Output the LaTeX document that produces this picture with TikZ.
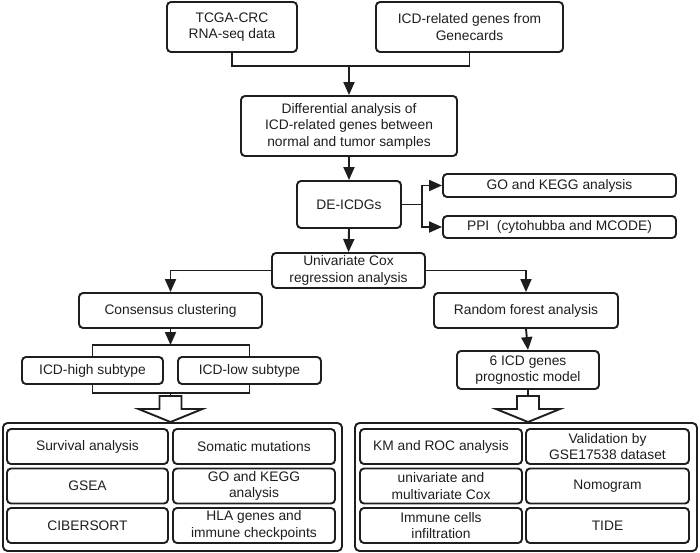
\documentclass[tikz,border=0pt]{standalone}
\usepackage{fontspec}
\setmainfont{Liberation Sans}
\usepackage{tikz}
\usetikzlibrary{arrows.meta}
\definecolor{inkgray}{HTML}{1E1E1E}
\def\hollowarrow(#1,#2){\draw[bigarr] ({#1-11},{#2}) -- ({#1+11},{#2}) -- ({#1+11},{#2+13}) -- ({#1+32},{#2+13}) -- ({#1},{#2+26}) -- ({#1-32},{#2+13}) -- ({#1-11},{#2+13}) -- cycle;}

\begin{document}
\begin{tikzpicture}[x=1pt, y=-1pt,
	box/.style={draw=inkgray, line width=1.9pt, rounded corners=4pt, align=center, inner sep=1pt, text=inkgray, font=\fontsize{13.8}{16.5}\selectfont},
	cell/.style={box, minimum height=35pt},
	panel/.style={draw=inkgray, line width=1.9pt, rounded corners=4.5pt, inner sep=0pt},
	link/.style={draw=inkgray, line width=1.9pt},
	arr/.style={link, -{Triangle[length=13pt, width=11pt]}},
	bigarr/.style={draw=inkgray, line width=1.9pt, fill=white, line join=miter}]
			%%%%% START %%%%%
			\useasboundingbox (0,0) rectangle (700,553);
			
			\node[box, minimum width=130pt, minimum height=50pt] (tcga) at (232,27) {TCGA-CRC\\RNA-seq data};
			\node[box, minimum width=187pt, minimum height=50pt] (icdrel) at (469.5,27) {ICD-related genes from\\Genecards};
			\coordinate (mergetop) at (349,66);
			
			\node[box, minimum width=216pt, minimum height=60pt] (diff) at (349,126) {Differential analysis of\\ICD-related genes between\\normal and tumor samples};
			\node[box, minimum width=104pt, minimum height=47pt] (deicdg) at (349,204.5) {DE-ICDGs};
			\coordinate (split) at (422,204.5);
			\node[box, minimum width=233pt, minimum height=23pt] (go) at (559.5,185.5) {GO and KEGG analysis};
			\node[box, minimum width=233pt, minimum height=22pt] (ppi) at (559.5,227) {PPI~~(cytohubba and MCODE)};
			
			\node[box, minimum width=153pt, minimum height=35pt] (unicox) at (348.5,270.5) {Univariate Cox\\regression analysis};
			\node[box, minimum width=183pt, minimum height=35pt] (consensus) at (170.5,310.5) {Consensus clustering};
			\node[box, minimum width=184pt, minimum height=35pt] (forest) at (526,310.5) {Random forest analysis};
			
			\coordinate (subtop) at (170.5,345);
			\node[box, minimum width=141pt, minimum height=27pt] (high) at (92.5,370.5) {ICD-high subtype};
			\node[box, minimum width=143pt, minimum height=27pt] (low) at (249.5,370.5) {ICD-low subtype};
			\coordinate (subbot) at (170.5,393);
			\node[box, minimum width=142pt, minimum height=38pt] (model) at (528,370) {6 ICD genes\\prognostic model};
			
			% result panels
			\node[panel, minimum width=339pt, minimum height=128pt] (leftpanel) at (172.5,487) {};
			\node[panel, minimum width=342pt, minimum height=128pt] (rightpanel) at (526,487) {};
			
			\node[cell, minimum width=161pt] (survival) at (87.5,446.5) {Survival analysis};
			\node[cell, minimum width=162pt] (somatic) at (254,446.5) {Somatic mutations};
			\node[cell, minimum width=161pt] (gsea) at (87.5,486) {GSEA};
			\node[cell, minimum width=162pt] (gokegg) at (254,486) {GO and KEGG\\analysis};
			\node[cell, minimum width=161pt] (cibersort) at (87.5,525.5) {CIBERSORT};
			\node[cell, minimum width=162pt] (hla) at (254,525.5) {HLA genes and\\immune checkpoints};
			
			\node[cell, minimum width=162pt] (kmroc) at (441,446.5) {KM and ROC analysis};
			\node[cell, minimum width=163pt] (validation) at (607.5,446.5) {Validation by\\GSE17538 dataset};
			\node[cell, minimum width=162pt] (multicox) at (441,486) {univariate and\\multivariate Cox};
			\node[cell, minimum width=163pt] (nomogram) at (607.5,486) {Nomogram};
			\node[cell, minimum width=162pt] (immune) at (441,525.5) {Immune cells\\infiltration};
			\node[cell, minimum width=163pt] (tide) at (607.5,525.5) {TIDE};
			
			% connectors
			\draw[link] (tcga.south) |- (mergetop) -| (icdrel.south);
			\draw[arr] (mergetop) -- (diff.north);
			\draw[arr] (diff.south) -- (deicdg.north);
			\draw[link] (deicdg.east) -- (split);
			\draw[arr] (split) |- (go.west);
			\draw[arr] (split) |- (ppi.west);
			\draw[arr] (deicdg.south) -- (unicox.north);
			\draw[arr] (unicox.west) -| (consensus.north);
			\draw[arr] (unicox.east) -| (forest.north);
			\draw[arr] (consensus.south) -- (subtop);
			\draw[link] (high.north) |- (subtop) -| (low.north);
			\draw[link] (high.south) |- (subbot) -| (low.south);
			\draw[link] (subbot) -- (170.5,396);
			\draw[arr] (forest.south) -- (model.north);
			\draw[link] (model.south) -- (528,396);
			
			\hollowarrow(170.5,396)
			\hollowarrow(528,396)
			%%%%% END %%%%%
\end{tikzpicture}
\end{document}
